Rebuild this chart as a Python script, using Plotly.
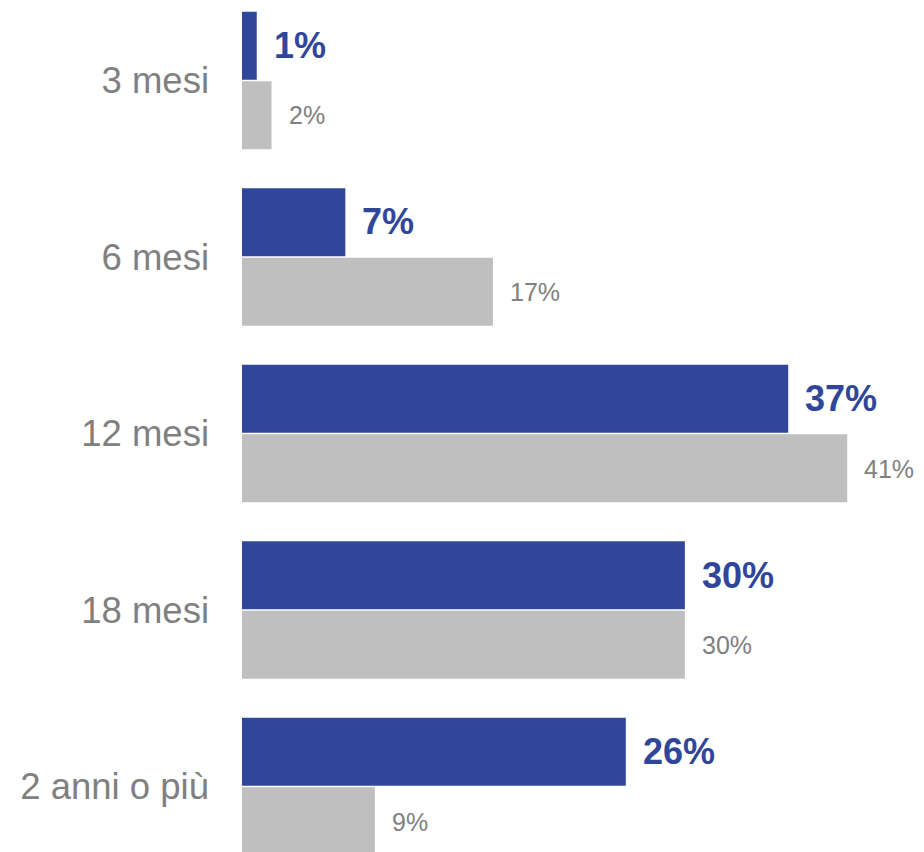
import plotly.graph_objects as go

categories = ["3 mesi", "6 mesi", "12 mesi", "18 mesi", "2 anni o più"]
series_a = [1, 7, 37, 30, 26]
series_b = [2, 17, 41, 30, 9]
labels_a = [f"{v}%" for v in series_a]
labels_b = [f"{v}%" for v in series_b]

BLUE = "#2F469A"
GRAY = "#BFBFBF"
TXT_GRAY = "#808080"
FONT = "Liberation Sans, Arial, sans-serif"

fig = go.Figure()
fig.add_trace(go.Bar(y=categories, x=series_a, orientation="h",
                     marker=dict(color=BLUE, line=dict(width=0)), name="A"))
fig.add_trace(go.Bar(y=categories, x=series_b, orientation="h",
                     marker=dict(color=GRAY, line=dict(width=0)), name="B"))

annotations = []
for c, v, t in zip(categories, series_a, labels_a):
    annotations.append(dict(x=v, y=c, xref="x", yref="y", text=f"<b>{t}</b>",
                            showarrow=False, xanchor="left", yanchor="middle",
                            xshift=15, yshift=35,
                            font=dict(family=FONT, size=36, color=BLUE)))
for c, v, t in zip(categories, series_b, labels_b):
    annotations.append(dict(x=v, y=c, xref="x", yref="y", text=t,
                            showarrow=False, xanchor="left", yanchor="middle",
                            xshift=15, yshift=-35,
                            font=dict(family=FONT, size=25, color=TXT_GRAY)))

fig.update_layout(
    width=924, height=852,
    margin=dict(l=242, r=0, t=0, b=0),
    paper_bgcolor="white", plot_bgcolor="white",
    barmode="group", bargap=0.2125, bargroupgap=0.0216,
    showlegend=False,
    annotations=annotations,
    xaxis=dict(range=[0, 46.2], visible=False, fixedrange=True),
    yaxis=dict(range=[4.371, -0.456], showgrid=False, zeroline=False,
               showline=False, ticks="", ticklabelstandoff=32, fixedrange=True,
               tickfont=dict(family=FONT, size=36.5, color=TXT_GRAY)),
)

fig.write_html("out.html",
               config={"displayModeBar": False, "staticPlot": True},
               post_script="document.body.style.margin='0';document.body.style.overflow='hidden';")
